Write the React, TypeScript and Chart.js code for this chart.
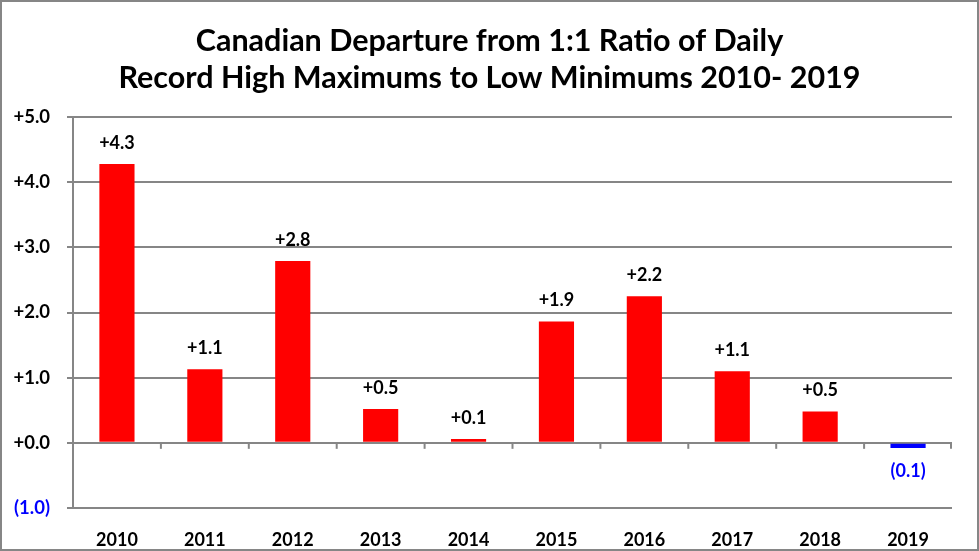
import React, { useEffect, useRef } from "react";
import { Chart, registerables } from "chart.js";

Chart.register(...registerables);

const categories = ["2010", "2011", "2012", "2013", "2014", "2015", "2016", "2017", "2018", "2019"];
const departures = [4.28, 1.13, 2.79, 0.52, 0.06, 1.86, 2.25, 1.1, 0.48, -0.08];
const valueLabels = ["+4.3", "+1.1", "+2.8", "+0.5", "+0.1", "+1.9", "+2.2", "+1.1", "+0.5", "(0.1)"];
const yTickValues = [5, 4, 3, 2, 1, 0, -1];
const yTickLabels = ["+5.0", "+4.0", "+3.0", "+2.0", "+1.0", "+0.0", "(1.0)"];
const titleLines = ["Canadian Departure from 1:1 Ratio of Daily", "Record High Maximums to Low Minimums 2010- 2019"];

const FONT = "Lato, 'Open Sans', sans-serif";
const GRID = "#868686";

const decorPlugin = {
  id: "decor",
  beforeDraw(chart: any) {
    const { ctx, width, height } = chart;
    ctx.save();
    ctx.fillStyle = "#ffffff";
    ctx.fillRect(0, 0, width, height);
    ctx.strokeStyle = GRID;
    ctx.lineWidth = 2;
    ctx.strokeRect(1, 1, width - 2, height - 2);
    ctx.restore();
  },
  afterDraw(chart: any) {
    const { ctx, chartArea } = chart;
    const x = chart.scales.x;
    const y = chart.scales.y;
    ctx.save();
    // title
    ctx.fillStyle = "#000";
    ctx.font = `bold 30.5px ${FONT}`;
    ctx.textAlign = "center";
    ctx.textBaseline = "middle";
    const cx = chart.width / 2;
    ctx.fillText(titleLines[0], cx, 41);
    ctx.fillText(titleLines[1], cx, 78);
    // tick marks on zero line at category boundaries
    const y0 = y.getPixelForValue(0);
    ctx.strokeStyle = GRID;
    ctx.lineWidth = 2;
    for (let i = 1; i <= categories.length; i++) {
      const bx = i < categories.length
        ? (x.getPixelForValue(i - 1) + x.getPixelForValue(i)) / 2
        : chartArea.right - 1;
      ctx.beginPath();
      ctx.moveTo(bx, y0);
      ctx.lineTo(bx, y0 + 6);
      ctx.stroke();
    }
    // data labels
    const meta = chart.getDatasetMeta(0);
    ctx.font = `bold 18px ${FONT}`;
    meta.data.forEach((bar: any, i: number) => {
      const v = departures[i];
      ctx.fillStyle = v < 0 ? "#0000FF" : "#000000";
      const ly = v < 0 ? bar.y + 23 : bar.y - 21;
      ctx.fillText(valueLabels[i], bar.x, ly);
    });
    ctx.restore();
  },
};

export default function App() {
  const ref = useRef<HTMLCanvasElement>(null);
  useEffect(() => {
    document.body.style.margin = "0";
    const chart = new Chart(ref.current as HTMLCanvasElement, {
      type: "bar",
      data: {
        labels: categories,
        datasets: [
          {
            data: departures,
            backgroundColor: departures.map((v) => (v < 0 ? "#0000FF" : "#FF0000")),
            barPercentage: 0.4,
            categoryPercentage: 1,
          },
        ],
      },
      options: {
        animation: false,
        responsive: false,
        devicePixelRatio: 1,
        layout: { padding: { top: 117, right: 27, left: 0, bottom: 0 } },
        plugins: {
          legend: { display: false },
          title: { display: false },
          tooltip: { enabled: false },
        },
        scales: {
          x: {
            grid: { display: false },
            border: { display: false },
            ticks: {
              color: "#000",
              font: { family: FONT, size: 18, weight: "bold" },
              padding: 13,
              maxRotation: 0,
            },
            afterFit(scale: any) {
              scale.height = 43;
            },
          },
          y: {
            min: -1,
            max: 5,
            afterBuildTicks(scale: any) {
              scale.ticks = yTickValues.map((v) => ({ value: v }));
            },
            grid: { color: GRID, lineWidth: 2, tickLength: 6, drawTicks: true },
            border: { display: true, color: GRID, width: 2 },
            ticks: {
              color: (c: any) => (c.tick && c.tick.value < 0 ? "#0000FF" : "#000"),
              font: { family: FONT, size: 18.5, weight: "bold" },
              padding: 17,
              callback: (v: any) => {
                const idx = yTickValues.indexOf(Number(v));
                return idx >= 0 ? yTickLabels[idx] : "";
              },
            },
            afterFit(scale: any) {
              scale.width = 73;
            },
          },
        },
      },
      plugins: [decorPlugin],
    });
    return () => chart.destroy();
  }, []);
  return (
    <div style={{ position: "absolute", left: 0, top: 0, width: 979, height: 551 }}>
      <canvas ref={ref} width={979} height={551} style={{ width: 979, height: 551, display: "block" }} />
    </div>
  );
}
